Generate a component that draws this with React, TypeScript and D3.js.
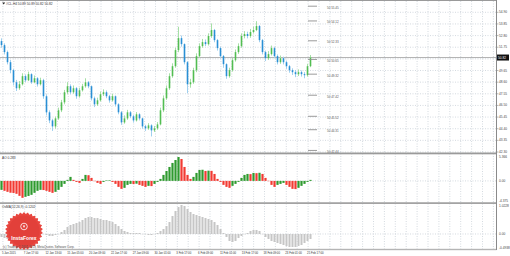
import React from 'react';
import * as d3 from 'd3';

const firstOpen = 52.3;
const closes = [51.94,51.31,50.40,49.68,48.59,48.05,48.41,49.14,48.77,49.32,48.59,48.95,48.41,48.77,47.33,45.88,45.15,44.61,45.33,46.06,46.78,47.69,48.23,47.69,48.05,47.33,47.87,48.23,48.59,48.23,47.14,46.60,46.96,47.51,47.69,47.33,46.96,47.33,46.60,45.88,44.97,45.33,45.88,45.52,45.15,45.70,45.33,44.61,44.43,44.70,44.25,44.43,44.79,46.06,47.14,48.05,49.14,50.04,51.49,52.57,52.03,50.40,48.41,48.59,49.68,50.95,51.85,52.21,52.03,52.76,53.30,52.39,51.67,50.95,50.22,49.14,49.68,50.58,51.31,51.85,52.76,52.94,52.76,53.12,53.30,53.66,52.39,51.31,50.76,51.13,51.67,50.95,50.40,50.76,50.40,50.04,49.68,49.50,49.32,49.50,49.32,49.23,50.04,50.82];
const highs = [52.55,52.10,51.45,50.60,49.80,48.80,48.70,49.40,49.30,49.55,49.40,49.20,49.05,49.00,48.90,47.50,46.05,45.30,45.50,46.30,47.00,47.90,48.60,48.40,48.30,48.15,48.10,48.45,48.95,48.70,48.30,47.30,47.20,47.75,47.95,47.85,47.45,47.55,47.40,46.70,46.00,45.60,46.10,46.00,45.65,45.90,45.80,45.40,44.75,44.90,44.80,44.65,45.00,46.30,47.40,48.30,49.40,50.30,51.70,53.60,52.80,52.10,50.50,48.90,49.90,51.20,52.10,52.50,52.45,53.00,53.90,53.40,52.50,51.80,51.05,50.30,49.90,50.80,51.55,52.10,53.00,53.20,53.15,53.40,53.60,54.10,53.75,52.50,51.45,51.40,51.90,51.80,51.10,51.00,50.90,50.55,50.15,49.85,49.70,49.75,49.65,49.50,50.25,51.05];
const lows = [51.70,51.10,50.20,49.40,48.30,47.80,47.90,48.30,48.60,48.70,48.45,48.50,48.20,48.30,47.10,45.60,44.90,44.20,44.40,45.20,45.90,46.60,47.50,47.50,47.55,47.10,47.20,47.75,48.10,48.05,46.95,46.35,46.45,46.85,47.35,47.15,46.75,46.85,46.40,45.70,44.75,44.85,45.20,45.35,44.95,45.05,45.15,44.40,44.20,44.30,43.70,44.10,44.30,44.70,45.90,47.00,47.90,49.00,49.90,51.30,51.80,50.20,47.60,48.10,48.45,49.50,50.80,51.70,51.85,51.90,52.60,52.20,51.45,50.75,49.90,48.90,49.00,49.55,50.45,51.15,51.70,52.55,52.55,52.60,53.00,53.20,52.20,51.10,50.50,50.60,51.00,50.75,50.20,50.25,50.20,49.80,49.45,49.25,49.05,49.15,49.10,48.95,49.10,49.95];
const aoValues = [-1.86,-2.06,-2.27,-2.45,-2.50,-2.68,-3.10,-3.51,-3.30,-3.12,-2.89,-2.48,-2.06,-1.86,-1.90,-2.06,-2.27,-2.48,-2.27,-1.86,-1.24,-0.62,0.21,0.83,0.21,-0.21,-0.41,0.41,1.24,1.18,0.62,0.02,-0.41,-0.62,-0.21,0.10,0.12,-0.21,-0.62,-1.24,-1.65,-1.44,-0.83,-0.62,-0.66,-0.58,-0.83,-1.03,-1.24,-1.03,-1.08,-0.62,-0.21,0.41,1.24,2.06,2.89,3.72,4.33,4.95,4.54,2.89,1.24,0.41,0.83,1.65,2.27,2.31,2.06,2.12,2.08,1.44,0.41,-0.21,-0.83,-1.24,-1.44,-1.03,-0.62,-0.21,0.62,1.24,1.44,1.40,1.65,1.60,1.68,1.44,0.62,0.02,-0.83,-1.24,-0.83,-0.62,-0.41,-0.83,-1.24,-1.65,-1.70,-1.44,-1.03,-0.62,-0.21,0.21];
const osmaValues = [-0.106,-0.141,-0.176,-0.176,-0.141,-0.141,-0.176,-0.212,-0.176,-0.141,-0.106,-0.071,-0.035,0.005,0.005,-0.035,-0.071,-0.071,-0.035,0.005,0.071,0.141,0.247,0.318,0.353,0.388,0.423,0.494,0.564,0.600,0.600,0.564,0.564,0.529,0.494,0.494,0.459,0.423,0.353,0.282,0.176,0.106,0.071,0.035,0.035,0.035,0.035,0.005,0.005,-0.035,-0.035,0.005,0.035,0.106,0.176,0.282,0.423,0.635,0.811,0.952,1.023,0.988,0.882,0.776,0.705,0.670,0.635,0.600,0.564,0.529,0.494,0.423,0.318,0.176,0.035,-0.106,-0.247,-0.282,-0.247,-0.141,-0.071,0.005,0.035,0.106,0.141,0.141,0.106,0.005,-0.106,-0.176,-0.247,-0.282,-0.318,-0.353,-0.388,-0.423,-0.459,-0.459,-0.459,-0.423,-0.388,-0.318,-0.247,-0.176];
const priceTicks = [54.90,53.85,52.80,51.75,50.70,49.65,48.60,47.55,46.50,45.45,44.40,43.35,42.30];
const levelMarks = [55.45,54.12,52.33,50.65,49.32,47.42,45.52,44.31,42.44];
const timeLabels = ["5 Jan 2015","7 Jan 17:00","12 Jan 13:00","15 Jan 05:00","20 Jan 09:00","22 Jan 17:00","27 Jan 09:00","30 Jan 01:00","3 Feb 17:00","6 Feb 09:00","11 Feb 01:00","13 Feb 17:00","18 Feb 09:00","23 Feb 01:00","25 Feb 17:00"];
const aoTicks = [5.366, 0, -4.375];
const osmaTicks = [1.0228, 0, -0.4938];
const currentPrice = 50.82;
const titleText = "#CL-H4 50.89 50.89 50.82 50.82";
const aoTitle = "AO 0.283";
const osmaTitle = "OsMA(12,26,9) -0.1202";

const W = 510, H = 256, RIGHT = 496.5;
const FONT = "'Liberation Sans', Arial, sans-serif";
const GRID = '#c9d0d8';

export default function App() {
  const n = closes.length;
  const x = d3.scaleLinear().domain([0, n - 1]).range([1.5, 310.5]);
  const y = d3.scaleLinear().domain([42.30, 54.90]).range([152, 12.3]);
  const yAo = d3.scaleLinear().domain([-4.375, 5.366]).range([202, 155]);
  const yOs = d3.scaleLinear().domain([-0.4938, 1.0228]).range([248, 205]);
  const xt = d3.scaleLinear().domain([0, 1]).range([2.9, 24.7]);
  const opens = closes.map((c, i) => (i === 0 ? firstOpen : closes[i - 1]));

  const vgrid = d3.range(0, 46).map((k) => 2.9 + 10.9 * k).filter((v) => v < RIGHT - 2);

  // starburst logo
  const cx = 24, cy = 231;
  const teeth = 30;
  const pts: [number, number][] = d3.range(teeth * 2).map((k) => {
    const a = (k / (teeth * 2)) * Math.PI * 2;
    const r = k % 2 === 0 ? 19 : 17;
    return [a, r];
  });
  const burst = d3.lineRadial().curve(d3.curveLinearClosed)(pts) || '';

  return (
    <svg width={W} height={H} style={{ position: 'absolute', left: 0, top: 0, background: '#fff' }} fontFamily={FONT}>
      <rect x={0} y={0} width={W} height={H} fill="#fff" />
      {/* vertical grid */}
      {vgrid.map((gx, i) => (
        <line key={'vg' + i} x1={gx} x2={gx} y1={1} y2={249} stroke={GRID} strokeWidth={0.8} strokeDasharray="1 1.5" />
      ))}
      {/* horizontal grid main */}
      {priceTicks.map((p, i) => (
        <line key={'hg' + i} x1={0} x2={RIGHT} y1={y(p)} y2={y(p)} stroke={GRID} strokeWidth={0.8} strokeDasharray="1 1.5" />
      ))}
      <line x1={0} x2={RIGHT} y1={yAo(0)} y2={yAo(0)} stroke={GRID} strokeWidth={0.8} strokeDasharray="1 1.5" />
      <line x1={0} x2={RIGHT} y1={yOs(0)} y2={yOs(0)} stroke={GRID} strokeWidth={0.8} strokeDasharray="1 1.5" />
      {/* current price line */}
      <line x1={0} x2={RIGHT} y1={y(currentPrice)} y2={y(currentPrice)} stroke="#a8a8a8" strokeWidth={0.9} />

      {/* candles */}
      {closes.map((c, i) => {
        const o = opens[i];
        const up = c >= o;
        const wick = up ? '#a6e0a6' : '#9fd0ef';
        const body = up ? '#52bd52' : '#2a8fd4';
        const top = y(Math.max(o, c));
        const bot = y(Math.min(o, c));
        return (
          <g key={'c' + i}>
            <line x1={x(i)} x2={x(i)} y1={y(highs[i])} y2={y(lows[i])} stroke={wick} strokeWidth={1} />
            <rect x={x(i) - 0.8} y={top} width={1.6} height={Math.max(0.8, bot - top)} fill={body} />
          </g>
        );
      })}

      {/* level marks overlay */}
      {levelMarks.map((p, i) => (
        <g key={'lm' + i}>
          <line x1={308} x2={317} y1={y(p)} y2={y(p)} stroke="#909090" strokeWidth={0.9} />
          <text x={327} y={y(p) + 1.5} fontSize={3} fill="#555" dominantBaseline="central">{'50 ' + p.toFixed(2)}</text>
        </g>
      ))}

      {/* AO */}
      {aoValues.map((v, i) => {
        const prev = i === 0 ? v : aoValues[i - 1];
        const col = v >= prev ? '#2f9a2f' : '#f23a32';
        const y0 = yAo(0), y1 = yAo(v);
        return <rect key={'ao' + i} x={x(i) - 1.1} y={Math.min(y0, y1)} width={2.2} height={Math.max(0.4, Math.abs(y1 - y0))} fill={col} />;
      })}

      {/* OsMA */}
      {osmaValues.map((v, i) => {
        const y0 = yOs(0), y1 = yOs(v);
        return <rect key={'os' + i} x={x(i) - 1} y={Math.min(y0, y1)} width={2} height={Math.max(0.4, Math.abs(y1 - y0))} fill="#c6c6c6" />;
      })}

      {/* panel borders */}
      <line x1={0} x2={RIGHT} y1={0.5} y2={0.5} stroke="#9a9a9a" strokeWidth={1} />
      <rect x={0} y={152.5} width={RIGHT} height={1.8} fill="#9a9a9a" />
      <rect x={0} y={202.3} width={RIGHT} height={1.6} fill="#9a9a9a" />
      <rect x={0} y={248.8} width={RIGHT} height={1.4} fill="#b5b5b5" />
      <line x1={RIGHT} x2={RIGHT} y1={0} y2={250} stroke="#8a8a8a" strokeWidth={1} />

      {/* right axis labels */}
      {priceTicks.map((p, i) =>
        Math.abs(y(p) - y(currentPrice)) < 4 ? null : (
          <g key={'pl' + i}>
            <line x1={RIGHT} x2={RIGHT + 2} y1={y(p)} y2={y(p)} stroke="#8a8a8a" strokeWidth={0.6} />
            <text x={499} y={y(p)} fontSize={3.2} fill="#444" dominantBaseline="central">{p.toFixed(2)}</text>
          </g>
        )
      )}
      <rect x={497} y={y(currentPrice) - 3} width={12} height={6} fill="#111" />
      <text x={498} y={y(currentPrice)} fontSize={3.2} fill="#fff" dominantBaseline="central">{currentPrice.toFixed(2)}</text>
      {aoTicks.map((v, i) => (
        <text key={'at' + i} x={499} y={Math.min(200.5, Math.max(156.5, yAo(v)))} fontSize={3.2} fill="#444" dominantBaseline="central">
          {v === 0 ? '0.00' : v.toFixed(3)}
        </text>
      ))}
      {osmaTicks.map((v, i) => (
        <text key={'ot' + i} x={499} y={Math.min(247.5, Math.max(206, yOs(v)))} fontSize={3.2} fill="#444" dominantBaseline="central">
          {v === 0 ? '0.00' : v.toFixed(4)}
        </text>
      ))}

      {/* titles */}
      <path d="M2.2,2.6 L5.2,2.6 L3.7,4.6 Z" fill="#222" />
      <text x={6} y={3.8} fontSize={3.2} fill="#333" dominantBaseline="central">{titleText}</text>
      <text x={2} y={158} fontSize={3.2} fill="#333" dominantBaseline="central">{aoTitle}</text>
      <text x={2} y={207} fontSize={3.2} fill="#333" dominantBaseline="central">{osmaTitle}</text>

      {/* time axis */}
      {timeLabels.map((t, i) => (
        <text key={'tl' + i} x={xt(i) - 1} y={252.5} fontSize={2.8} fill="#333" dominantBaseline="central">{t}</text>
      ))}

      {/* logo */}
      <g transform={`translate(${cx},${cy})`}>
        <path d={burst} fill="#e8463f" />
        <circle r={15.5} fill="#e2403a" />
        <circle cx={0} cy={-4.5} r={3.3} fill="none" stroke="#fff" strokeWidth={0.8} />
        <path d="M-1.2,-5.5 L1.2,-5.5 L0,-3 Z" fill="#fff" />
        <text x={0} y={7} fontSize={5} fill="#fff" textAnchor="middle" fontWeight="bold" dominantBaseline="central">InstaForex</text>
      </g>
      <text x={3} y={246.5} fontSize={3} fill="#555" dominantBaseline="central">(c) Trading © 2001-2015, MetaQuotes Software Corp.</text>
    </svg>
  );
}
